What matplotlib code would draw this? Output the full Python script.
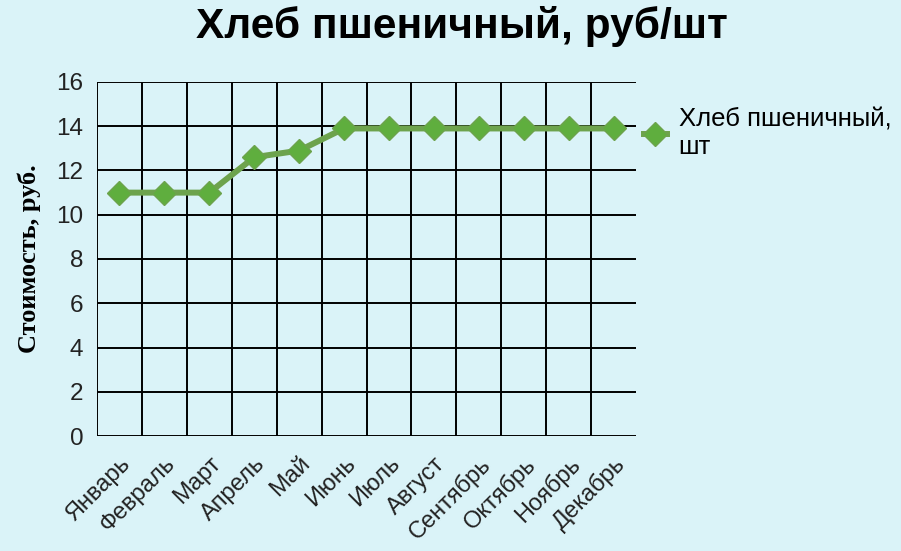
import matplotlib.pyplot as plt
import numpy as np

months = ['Январь', 'Февраль', 'Март', 'Апрель', 'Май', 'Июнь', 'Июль',
          'Август', 'Сентябрь', 'Октябрь', 'Ноябрь', 'Декабрь']
prices = [11.0, 11.0, 11.0, 12.6, 12.9, 13.9, 13.9, 13.9, 13.9, 13.9, 13.9, 13.9]
y_ticks = [0, 2, 4, 6, 8, 10, 12, 14, 16]

bg = '#daf3f8'
line_color = '#6da34d'
marker_color = '#5fae3e'
text_color = '#222222'

fig = plt.figure(figsize=(9.01, 5.51), dpi=100, facecolor=bg)
ax = fig.add_axes([0.1077, 0.2087, 0.5983, 0.6425], facecolor=bg)

x = np.arange(len(months))
ax.plot(x, prices, color=line_color, linewidth=4.3, marker='D', markersize=12.5,
        markerfacecolor=marker_color, markeredgecolor=line_color, markeredgewidth=1,
        label='Хлеб пшеничный,\nшт', zorder=3)

ax.set_xlim(-0.5, len(months) - 0.5)
ax.set_ylim(0, 16)

# grid: horizontal at every tick, vertical between months (no line at right edge)
for yv in y_ticks:
    ax.axhline(yv, color='black', linewidth=1.4, zorder=1)
for xv in np.arange(-0.5, len(months) - 1, 1.0):
    ax.axvline(xv, color='black', linewidth=1.4, zorder=1)

for s in ax.spines.values():
    s.set_visible(False)

ax.set_yticks(y_ticks)
ax.set_xticks(x)
ax.set_xticklabels(months, rotation=45, ha='right', rotation_mode='anchor',
                   fontsize=17, family='Liberation Sans', color=text_color)
ax.tick_params(axis='y', length=0, pad=10)
ax.tick_params(axis='x', length=0, pad=12)
for lbl in ax.get_yticklabels():
    lbl.set_fontsize(17.5)
    lbl.set_family('Liberation Sans')
    lbl.set_color(text_color)

ax.set_ylabel('Стоимость, руб.', fontsize=19, fontweight='bold',
              family='Liberation Serif', labelpad=11)

fig.suptitle('Хлеб пшеничный, руб/шт', fontsize=30.5, fontweight='bold',
             family='Liberation Sans', x=0.513, y=0.99)

ax.legend(loc='center left', bbox_to_anchor=(1.0, 0.855), frameon=False,
          prop={'family': 'Liberation Sans', 'size': 18.5},
          handlelength=0.9, handletextpad=0.45, borderaxespad=0, borderpad=0.3,
          labelspacing=0.2)

fig.savefig('out.png', dpi=100, facecolor=bg)
